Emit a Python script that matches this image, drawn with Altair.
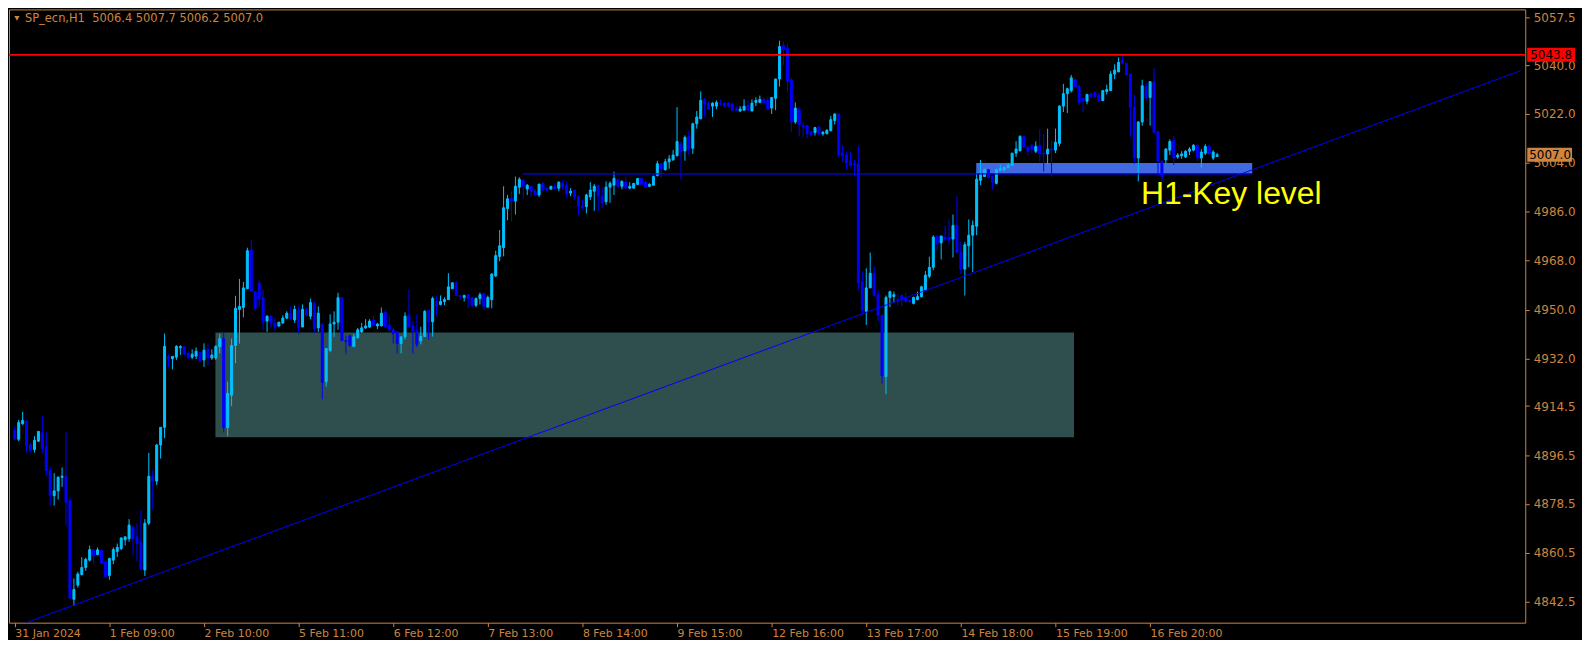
import json
import altair as alt
import pandas as pd

# ---------------- data ----------------
opens = [4905.7, 4902.3, 4908.0, 4909.1, 4900.3, 4898.5, 4901.6, 4904.7, 4899.5, 4890.8,
         4881.5, 4883.3, 4888.3, 4888.7, 4879.7, 4843.4, 4848.6, 4852.5, 4855.1, 4857.8,
         4861.7, 4859.9, 4861.4, 4857.2, 4852.2, 4857.8, 4861.0, 4862.1, 4865.3, 4865.7,
         4870.0, 4866.4, 4864.3, 4854.2, 4871.4, 4888.7, 4886.9, 4900.2, 4906.7, 4932.7,
         4931.9, 4932.5, 4936.0, 4936.4, 4934.0, 4932.5, 4932.9, 4934.3, 4931.5, 4935.4,
         4932.2, 4932.2, 4936.4, 4939.3, 4906.6, 4918.5, 4936.8, 4950.1, 4950.8, 4957.7,
         4972.0, 4956.6, 4959.8, 4954.4, 4945.8, 4947.6, 4945.1, 4944.0, 4945.1, 4946.9,
         4948.7, 4946.2, 4949.7, 4943.6, 4950.1, 4947.6, 4952.3, 4943.3, 4944.7, 4923.5,
         4935.0, 4944.7, 4945.4, 4954.4, 4938.6, 4940.4, 4936.4, 4939.7, 4941.8, 4943.3,
         4943.6, 4946.2, 4944.0, 4944.0, 4949.0, 4944.4, 4942.6, 4941.8, 4937.5, 4940.0,
         4947.9, 4944.0, 4942.2, 4938.5, 4940.1, 4949.8, 4945.5, 4953.0, 4951.9, 4953.0,
         4953.7, 4957.7, 4959.9, 4955.2, 4954.5, 4955.5, 4954.5, 4951.6, 4954.1, 4955.9,
         4950.9, 4953.7, 4962.4, 4969.6, 4972.8, 4987.2, 4990.8, 4990.0, 4995.1, 4997.6,
         4994.4, 4995.4, 4993.6, 4992.2, 4996.5, 4994.7, 4994.4, 4995.4, 4994.7, 4996.5,
         4995.8, 4992.9, 4994.0, 4991.5, 4988.2, 4987.9, 4991.5, 4993.6, 4995.8, 4991.8,
         4989.7, 4995.1, 4995.8, 4998.0, 4995.4, 4996.9, 4994.7, 4994.7, 4996.1, 4998.3,
         4996.9, 4995.4, 4995.8, 4999.4, 5003.7, 5001.5, 5004.4, 5005.1, 5006.6, 5010.9,
         5008.4, 5013.7, 5009.4, 5018.4, 5020.2, 5027.4, 5026.0, 5024.9, 5024.9, 5026.0,
         5026.0, 5026.0, 5025.6, 5023.8, 5023.1, 5023.4, 5025.2, 5023.1, 5026.3, 5026.3,
         5027.4, 5027.0, 5024.2, 5027.8, 5034.9, 5047.2, 5046.1, 5034.6, 5019.1, 5023.8,
         5017.7, 5017.7, 5015.5, 5015.2, 5017.3, 5014.7, 5014.8, 5015.9, 5019.6, 5022.0,
         5007.6, 5006.9, 5004.8, 5003.7, 5003.7, 4960.2, 4949.4, 4958.0, 4963.4, 4955.5,
         4948.0, 4925.3, 4954.5, 4954.8, 4953.7, 4955.2, 4954.5, 4953.4, 4952.3, 4953.7,
         4954.8, 4957.3, 4962.3, 4965.6, 4977.1, 4974.6, 4976.7, 4976.7, 4976.0, 4981.0,
         4971.0, 4964.9, 4973.5, 4977.4, 4980.7, 4997.6, 4999.0, 5001.5, 4999.0, 4996.5,
         5001.3, 5001.5, 5002.3, 5003.0, 5007.6, 5008.4, 5013.8, 5009.8, 5010.5, 5008.3,
         5010.5, 5007.6, 5007.3, 5009.1, 5008.7, 5011.2, 5024.9, 5029.5, 5030.6, 5034.6,
         5032.1, 5027.7, 5026.7, 5029.5, 5029.9, 5028.8, 5027.0, 5030.3, 5030.6, 5036.7,
         5037.5, 5041.8, 5040.7, 5036.7, 5024.5, 5005.8, 5019.1, 5032.1, 5028.1, 5033.9,
         5015.5, 5004.4, 5005.1, 5008.7, 5012.3, 5006.2, 5006.6, 5006.2, 5008.3, 5008.7,
         5010.5, 5005.8, 5007.6, 5010.1, 5005.8, 5006.4]
highs = [4907.0, 4909.4, 4912.4, 4909.1, 4900.9, 4903.4, 4905.2, 4911.0, 4904.9, 4892.3,
         4889.8, 4888.7, 4891.9, 4904.9, 4880.7, 4851.0, 4853.5, 4858.9, 4858.7, 4863.2,
         4861.7, 4862.5, 4861.4, 4857.8, 4858.7, 4862.5, 4863.9, 4866.0, 4866.4, 4872.9,
         4870.4, 4871.1, 4876.1, 4872.9, 4897.3, 4890.8, 4900.6, 4906.7, 4941.2, 4933.6,
         4932.8, 4936.9, 4936.9, 4936.4, 4934.7, 4935.4, 4936.1, 4934.3, 4937.6, 4937.6,
         4935.4, 4936.9, 4941.1, 4941.5, 4923.5, 4939.3, 4955.1, 4961.3, 4960.2, 4972.8,
         4975.6, 4956.9, 4960.9, 4957.3, 4947.9, 4947.9, 4946.9, 4945.4, 4947.9, 4949.4,
         4951.2, 4951.5, 4951.2, 4951.9, 4950.8, 4954.1, 4953.3, 4951.2, 4944.7, 4935.7,
         4948.3, 4949.4, 4956.2, 4954.4, 4940.4, 4940.8, 4941.1, 4943.3, 4945.1, 4946.5,
         4946.5, 4947.6, 4945.1, 4950.8, 4950.1, 4947.6, 4943.3, 4942.2, 4940.0, 4949.0,
         4957.3, 4945.8, 4948.3, 4943.7, 4949.8, 4950.1, 4954.8, 4955.2, 4955.2, 4954.5,
         4963.4, 4959.9, 4960.6, 4955.5, 4955.5, 4955.5, 4954.8, 4954.5, 4956.3, 4956.3,
         4955.2, 4963.4, 4971.7, 4979.3, 4995.4, 4992.2, 4993.6, 4999.0, 4998.7, 4998.0,
         4996.2, 4995.4, 4994.4, 4996.2, 4996.9, 4995.1, 4995.4, 4996.5, 4997.2, 4997.6,
         4997.2, 4994.7, 4994.0, 4992.2, 4990.4, 4992.6, 4996.9, 4996.2, 4995.8, 4995.1,
         4997.2, 4997.2, 5000.8, 4998.0, 4997.6, 4999.0, 4996.9, 4996.5, 4998.3, 4998.3,
         4997.6, 4996.5, 4999.4, 5004.8, 5004.0, 5005.5, 5006.9, 5008.7, 5024.5, 5011.9,
         5014.1, 5015.9, 5018.8, 5023.1, 5030.3, 5027.8, 5026.7, 5026.3, 5027.0, 5027.4,
         5026.3, 5026.3, 5026.3, 5024.9, 5024.9, 5027.4, 5027.0, 5027.4, 5028.1, 5028.8,
         5028.1, 5028.1, 5028.1, 5034.9, 5049.0, 5048.6, 5047.9, 5035.3, 5026.3, 5024.5,
         5019.1, 5018.1, 5015.9, 5017.3, 5017.3, 5015.7, 5016.4, 5021.3, 5022.3, 5022.4,
         5010.5, 5008.0, 5008.0, 5005.1, 5010.2, 4964.2, 4965.2, 4971.0, 4966.0, 4957.3,
         4948.0, 4955.2, 4957.0, 4956.6, 4955.9, 4955.5, 4956.3, 4953.7, 4954.8, 4956.6,
         4958.8, 4964.2, 4969.5, 4977.4, 4977.1, 4977.1, 4981.0, 4983.2, 4985.0, 4991.8,
         4974.9, 4974.9, 4983.2, 4982.8, 5000.5, 5005.1, 5001.9, 5001.5, 4999.0, 5001.9,
         5003.3, 5002.6, 5003.7, 5007.6, 5012.0, 5014.1, 5013.8, 5010.1, 5010.9, 5011.9,
         5016.3, 5014.8, 5016.6, 5012.3, 5016.6, 5025.2, 5033.1, 5031.7, 5036.4, 5034.6,
         5032.8, 5027.7, 5029.2, 5029.5, 5030.3, 5029.9, 5030.6, 5032.8, 5037.8, 5040.3,
         5042.8, 5043.2, 5040.7, 5036.7, 5029.2, 5019.1, 5034.6, 5033.5, 5033.9, 5038.9,
         5015.5, 5005.1, 5009.4, 5012.7, 5014.1, 5007.6, 5008.3, 5008.7, 5009.8, 5010.9,
         5010.9, 5009.1, 5010.9, 5010.9, 5008.7, 5007.7]
lows = [4902.3, 4901.6, 4907.6, 4897.4, 4897.4, 4897.4, 4901.3, 4897.1, 4888.7, 4877.9,
        4877.9, 4880.1, 4884.7, 4870.7, 4843.8, 4841.0, 4847.7, 4852.2, 4853.9, 4857.3,
        4856.3, 4859.6, 4856.7, 4851.6, 4850.6, 4856.3, 4859.0, 4861.5, 4863.2, 4864.6,
        4859.6, 4857.4, 4854.5, 4852.0, 4870.7, 4876.5, 4885.5, 4895.2, 4902.7, 4928.9,
        4928.0, 4931.5, 4933.3, 4933.3, 4931.8, 4931.8, 4931.8, 4930.7, 4928.9, 4929.3,
        4931.5, 4931.5, 4933.9, 4904.8, 4903.4, 4914.5, 4930.3, 4937.5, 4947.2, 4957.7,
        4956.9, 4949.7, 4951.2, 4942.6, 4941.8, 4943.3, 4942.2, 4943.6, 4944.7, 4946.5,
        4946.5, 4945.1, 4941.1, 4943.6, 4947.6, 4946.5, 4941.5, 4941.8, 4917.0, 4921.7,
        4934.3, 4940.0, 4942.6, 4938.6, 4933.6, 4936.4, 4936.4, 4939.3, 4941.5, 4942.9,
        4943.3, 4944.0, 4942.9, 4944.0, 4943.6, 4941.8, 4937.5, 4933.9, 4933.9, 4939.0,
        4943.6, 4933.9, 4936.1, 4937.2, 4940.1, 4939.0, 4940.1, 4947.6, 4951.6, 4951.6,
        4953.7, 4957.7, 4955.2, 4953.7, 4953.0, 4950.5, 4950.9, 4950.9, 4951.9, 4949.8,
        4950.9, 4950.5, 4962.0, 4967.8, 4969.6, 4982.9, 4982.5, 4985.0, 4992.6, 4990.8,
        4992.2, 4991.5, 4991.8, 4991.5, 4993.6, 4993.6, 4994.0, 4994.0, 4993.6, 4994.0,
        4991.1, 4991.8, 4990.4, 4984.7, 4986.8, 4985.4, 4990.4, 4986.4, 4986.1, 4987.5,
        4988.6, 4989.3, 4992.2, 4994.7, 4994.3, 4994.7, 4994.3, 4994.7, 4996.1, 4996.1,
        4995.1, 4995.1, 4995.8, 4999.0, 4998.6, 5001.2, 5001.9, 5004.8, 5006.6, 4997.9,
        5004.8, 5006.6, 5007.3, 5016.6, 5020.2, 5020.9, 5023.4, 5020.9, 5023.8, 5025.2,
        5024.5, 5024.5, 5023.4, 5023.1, 5022.7, 5023.4, 5023.4, 5023.1, 5024.9, 5026.0,
        5025.2, 5023.4, 5022.0, 5023.4, 5032.1, 5040.0, 5030.3, 5015.5, 5018.4, 5013.7,
        5013.4, 5013.0, 5013.7, 5014.1, 5014.5, 5014.0, 5014.5, 5015.6, 5018.1, 5006.2,
        5004.4, 5001.5, 5002.6, 4999.0, 4957.3, 4948.3, 4944.4, 4958.0, 4954.8, 4945.8,
        4922.8, 4918.9, 4950.9, 4952.6, 4951.6, 4951.2, 4952.6, 4952.3, 4951.9, 4953.4,
        4954.5, 4957.0, 4961.6, 4964.5, 4971.7, 4968.5, 4975.3, 4973.9, 4969.2, 4971.0,
        4963.1, 4955.2, 4965.6, 4963.8, 4977.4, 4995.8, 4999.0, 4998.3, 4994.0, 4996.1,
        5001.2, 5000.8, 5001.9, 5003.0, 5006.2, 5008.4, 5009.8, 5006.9, 5007.6, 5007.6,
        5004.4, 5000.8, 5003.7, 4998.9, 5007.6, 5010.1, 5022.7, 5022.4, 5029.9, 5031.7,
        5025.2, 5022.7, 5025.6, 5027.7, 5028.1, 5026.7, 5026.7, 5029.2, 5030.6, 5034.9,
        5037.5, 5040.3, 5036.0, 5013.7, 5003.7, 4997.2, 5017.7, 5027.0, 5017.7, 5015.2,
        4999.4, 4997.2, 5003.7, 5006.9, 5003.3, 5005.5, 5005.5, 5005.8, 5006.9, 5008.3,
        5004.7, 5002.2, 5006.9, 5007.3, 5005.1, 5006.2]
closes = [4902.3, 4908.5, 4909.2, 4899.8, 4898.3, 4901.9, 4905.2, 4898.9, 4890.8, 4881.7,
          4883.3, 4888.3, 4888.7, 4879.1, 4843.8, 4847.0, 4852.7, 4855.1, 4858.1, 4861.7,
          4859.3, 4861.6, 4856.7, 4851.8, 4858.4, 4861.7, 4862.5, 4866.0, 4866.4, 4870.7,
          4865.8, 4863.9, 4854.5, 4871.4, 4888.7, 4886.9, 4900.2, 4906.7, 4936.5, 4931.9,
          4932.8, 4936.5, 4936.4, 4933.6, 4932.5, 4933.6, 4934.7, 4931.1, 4935.1, 4932.2,
          4933.3, 4936.5, 4939.3, 4906.6, 4919.2, 4936.8, 4950.5, 4951.2, 4958.0, 4971.7,
          4956.9, 4950.5, 4954.1, 4945.4, 4947.6, 4945.1, 4943.6, 4945.4, 4946.9, 4948.7,
          4946.5, 4950.1, 4943.3, 4950.1, 4947.9, 4952.6, 4942.9, 4948.7, 4923.2, 4935.7,
          4944.7, 4945.4, 4954.4, 4938.6, 4938.2, 4936.8, 4940.0, 4942.6, 4943.3, 4944.0,
          4945.8, 4944.4, 4944.7, 4948.7, 4943.6, 4942.6, 4941.1, 4937.5, 4940.0, 4947.6,
          4943.6, 4941.8, 4937.2, 4940.1, 4949.4, 4945.5, 4954.1, 4951.2, 4953.0, 4953.7,
          4958.4, 4959.9, 4955.2, 4954.8, 4955.2, 4954.1, 4951.6, 4954.1, 4955.5, 4951.2,
          4954.5, 4963.1, 4969.9, 4973.5, 4987.5, 4990.8, 4990.0, 4995.4, 4998.0, 4995.4,
          4995.8, 4993.6, 4992.2, 4996.2, 4994.0, 4994.0, 4995.4, 4994.4, 4996.9, 4995.1,
          4992.6, 4993.6, 4991.5, 4988.2, 4987.5, 4992.2, 4994.0, 4995.4, 4991.8, 4989.3,
          4995.1, 4996.5, 4998.3, 4995.4, 4997.2, 4994.7, 4995.4, 4996.5, 4998.3, 4996.1,
          4995.1, 4996.1, 4999.0, 5003.7, 5001.9, 5004.4, 5005.5, 5006.9, 5011.9, 5008.0,
          5013.4, 5009.1, 5018.4, 5020.9, 5027.0, 5025.6, 5023.8, 5026.0, 5026.3, 5025.6,
          5024.9, 5024.9, 5023.4, 5023.4, 5023.8, 5024.9, 5023.4, 5026.0, 5027.0, 5027.4,
          5026.3, 5023.8, 5028.1, 5034.9, 5046.8, 5045.7, 5034.2, 5019.1, 5024.2, 5018.1,
          5017.3, 5014.8, 5014.5, 5017.0, 5014.5, 5015.3, 5016.0, 5019.9, 5022.0, 5006.9,
          5006.6, 5004.0, 5003.0, 5003.3, 4959.8, 4949.8, 4958.0, 4963.4, 4955.2, 4948.0,
          4925.7, 4954.5, 4956.6, 4955.5, 4953.4, 4953.7, 4953.0, 4953.0, 4954.5, 4954.8,
          4958.4, 4962.7, 4965.6, 4976.7, 4974.2, 4977.1, 4976.0, 4975.6, 4981.0, 4971.0,
          4964.9, 4973.9, 4977.4, 4981.0, 4998.0, 4999.7, 5001.5, 4998.7, 4996.9, 5001.5,
          5001.9, 5002.3, 5003.1, 5007.6, 5009.1, 5013.8, 5009.8, 5008.3, 5009.1, 5010.1,
          5007.3, 5007.3, 5009.1, 5008.7, 5011.6, 5024.9, 5029.5, 5031.3, 5035.3, 5032.1,
          5026.3, 5026.7, 5029.2, 5028.5, 5028.5, 5026.7, 5030.6, 5031.0, 5036.7, 5038.2,
          5041.0, 5040.7, 5036.4, 5024.5, 5005.8, 5019.1, 5032.4, 5028.1, 5033.9, 5015.2,
          5004.7, 4999.0, 5009.1, 5011.9, 5005.8, 5006.9, 5007.3, 5008.3, 5009.1, 5010.5,
          5005.8, 5008.0, 5010.1, 5007.3, 5008.0, 5007.0]

tick_bars = [0, 24, 48, 72, 96, 120, 144, 168, 192, 216, 240, 264, 288]
tick_labels = ["31 Jan 2024", "1 Feb 09:00", "2 Feb 10:00", "5 Feb 11:00", "6 Feb 12:00",
               "7 Feb 13:00", "8 Feb 14:00", "9 Feb 15:00", "12 Feb 16:00", "13 Feb 17:00",
               "14 Feb 18:00", "15 Feb 19:00", "16 Feb 20:00"]
price_ticks = [5057.5, 5040.0, 5022.0, 5004.0, 4986.0, 4968.0, 4950.0, 4932.0,
               4914.5, 4896.5, 4878.5, 4860.5, 4842.5]

zone_bars = [50.9, 268.7]
zone_prices = [4903.0, 4941.6]
key_bars = [243.9, 313.9]
key_prices = [5000.0, 5004.0]
level_bars = [128.9, 313.9]
level_price = [5000.0]
trend_bars = [2.9, 381.9]
trend_prices = [4834.8, 5037.9]
resistance_price = [5043.8]
last_price = [5007.0]
key_label_pos = [285.7, 4992.7]
header = "SP_ecn,H1\u00a0 5006.4 5007.7 5006.2 5007.0"

x_domain = [-0.2, 381.9]
y_domain = [4834.8, 5060.5]

# ---------------- styling ----------------
W, H = 1523, 616
FG = "#CD853F"
BULL, BEAR = "#00BFFF", "#0000FF"
FONT = "DejaVu Sans"

candles = pd.DataFrame({"k": list(range(len(opens))), "o": opens, "h": highs,
                        "l": lows, "c": closes})
candles["dir"] = ["up" if c >= o else "down" for o, c in zip(opens, closes)]

xs = alt.Scale(domain=x_domain, zero=False, nice=False)
ys = alt.Scale(domain=y_domain, zero=False, nice=False)
cs = alt.Scale(domain=["up", "down"], range=[BULL, BEAR])

label_expr = json.dumps(tick_labels) + "[round(datum.value / 24)]"
xaxis = alt.Axis(values=tick_bars, labelExpr=label_expr, labelAlign="left",
                 labelColor=FG, tickColor=FG, tickSize=4, labelPadding=1,
                 labelFont=FONT, labelFontSize=11, domain=False, grid=False,
                 title=None, labelFlush=False, labelOverlap=False, orient="bottom")
yaxis = alt.Axis(values=price_ticks, format=".1f", orient="right", labelAlign="left",
                 labelColor=FG, tickColor=FG, tickSize=4, labelPadding=4,
                 labelFont=FONT, labelFontSize=12, domain=False, grid=False,
                 title=None, labelOverlap=False, labelFlush=False)


def X(f):
    return alt.X(f, scale=xs, axis=xaxis)


def Y(f):
    return alt.Y(f, scale=ys, axis=yaxis)


zone_df = pd.DataFrame({"x0": [zone_bars[0]], "x1": [zone_bars[1]],
                        "y0": [zone_prices[0]], "y1": [zone_prices[1]]})
key_df = pd.DataFrame({"x0": [key_bars[0]], "x1": [key_bars[1]],
                       "y0": [key_prices[0]], "y1": [key_prices[1]]})
level_df = pd.DataFrame({"x0": [level_bars[0]], "x1": [level_bars[1]], "p": level_price})
trend_df = pd.DataFrame({"x": trend_bars, "p": trend_prices})
res_df = pd.DataFrame({"p": resistance_price, "t": ["%.1f" % resistance_price[0]]})
last_df = pd.DataFrame({"p": last_price, "t": ["%.1f" % last_price[0]]})
keylab_df = pd.DataFrame({"x": [key_label_pos[0]], "p": [key_label_pos[1]], "t": ["H1-Key level"]})
head_df = pd.DataFrame({"t": [header]})

zone = alt.Chart(zone_df).mark_rect(color="#2F4F4F").encode(
    x=X("x0:Q"), x2="x1:Q", y=Y("y0:Q"), y2="y1:Q")
key = alt.Chart(key_df).mark_rect(color="#4169E1").encode(
    x=X("x0:Q"), x2="x1:Q", y=Y("y0:Q"), y2="y1:Q")

wicks = alt.Chart(candles).mark_rule(strokeWidth=1).encode(
    x=X("k:Q"), y=Y("l:Q"), y2="h:Q",
    color=alt.Color("dir:N", scale=cs, legend=None))
bodies = alt.Chart(candles).mark_bar(size=2, strokeWidth=1).encode(
    x=X("k:Q"), y=Y("o:Q"), y2="c:Q",
    color=alt.Color("dir:N", scale=cs, legend=None),
    stroke=alt.Stroke("dir:N", scale=cs, legend=None))

level = alt.Chart(level_df).mark_rule(color="#0000FF", strokeWidth=1.3).encode(
    x=X("x0:Q"), x2="x1:Q", y=Y("p:Q"))
trend = alt.Chart(trend_df).mark_line(color="#0000FF", strokeWidth=1, clip=True).encode(
    x=X("x:Q"), y=Y("p:Q"))
res_line = alt.Chart(res_df).mark_rule(color="#FF0000", strokeWidth=1.8).encode(y=Y("p:Q"))

key_text = alt.Chart(keylab_df).mark_text(
    align="left", baseline="middle", font="Liberation Sans", fontSize=32,
    color="#FFFF00").encode(x=X("x:Q"), y=Y("p:Q"), text="t:N")

head_tri = alt.Chart(head_df).mark_point(
    shape="triangle-down", filled=True, size=28, color=FG, opacity=1).encode(
    x=alt.value(8), y=alt.value(9))
head_text = alt.Chart(head_df).mark_text(
    align="left", baseline="middle", font=FONT, fontSize=11.5, color=FG).encode(
    x=alt.value(16), y=alt.value(10), text="t:N")

res_tag = alt.Chart(res_df).mark_rule(color="#FF0000", strokeWidth=14, strokeCap="butt").encode(
    x=alt.value(W + 2), x2=alt.value(W + 50), y=Y("p:Q"))
res_tag_text = alt.Chart(res_df).mark_text(
    align="left", baseline="middle", font=FONT, fontSize=12, color="#000000").encode(
    x=alt.value(W + 5), y=Y("p:Q"), text="t:N")
last_tag = alt.Chart(last_df).mark_rule(color=FG, strokeWidth=14, strokeCap="butt").encode(
    x=alt.value(W + 2), x2=alt.value(W + 47), y=Y("p:Q"))
last_tag_text = alt.Chart(last_df).mark_text(
    align="left", baseline="middle", font=FONT, fontSize=12, color="#000000").encode(
    x=alt.value(W + 4), y=Y("p:Q"), text="t:N")

chart = alt.layer(
    zone, key, wicks, bodies, level, trend, res_line, key_text,
    head_tri, head_text, res_tag, res_tag_text, last_tag, last_tag_text
).properties(
    width=W, height=H, padding=0
).configure(
    background="#000000"
).configure_view(
    stroke=FG, strokeWidth=1
)

chart.save("out.html", embed_options={"renderer": "svg", "actions": False})
